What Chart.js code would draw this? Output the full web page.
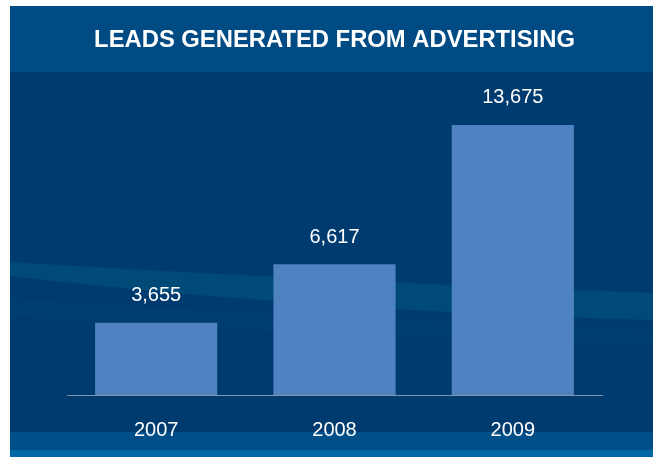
<!DOCTYPE html>
<html lang="en">
<head>
  <meta charset="UTF-8">
  <title>Leads Generated From Advertising</title>
  <script src="https://cdn.jsdelivr.net/npm/chart.js"></script>
  <style>
    html, body { margin: 0; padding: 0; background: #fff; }
    #wrap { width: 653px; height: 457px; }
  </style>
</head>
<body>
<div id="wrap"><canvas id="chart" width="653" height="457"></canvas></div>
<script>
const years = ['2007', '2008', '2009'];
const leads = [3655, 6617, 13675];
const chartTitle = 'LEADS GENERATED FROM ADVERTISING';

// panel background, title band and the light swoosh
const backdrop = {
  id: 'backdrop',
  beforeDraw(chart) {
    const c = chart.ctx;
    c.save();
    c.fillStyle = '#ffffff';
    c.fillRect(0, 0, 653, 457);
    c.fillStyle = '#003b6f';
    c.fillRect(10, 6, 643, 451);
    c.fillStyle = '#004b83';
    c.fillRect(10, 6, 643, 66);
    c.fillStyle = '#004f89';
    c.fillRect(10, 432, 643, 18);
    c.fillStyle = '#0068a4';
    c.fillRect(10, 450, 643, 7);

    // swoosh
    c.beginPath();
    c.moveTo(10, 262);
    c.quadraticCurveTo(300, 280, 653, 293);
    c.lineTo(653, 320);
    c.quadraticCurveTo(300, 310, 10, 276);
    c.closePath();
    c.fillStyle = 'rgba(0, 90, 130, 0.5)';
    c.fill();

    c.beginPath();
    c.moveTo(10, 298);
    c.quadraticCurveTo(300, 318, 653, 330);
    c.lineTo(653, 344);
    c.quadraticCurveTo(300, 336, 10, 316);
    c.closePath();
    c.fillStyle = 'rgba(0, 80, 125, 0.18)';
    c.fill();
    c.restore();
  }
};

// value labels over the bars
const valueLabels = {
  id: 'valueLabels',
  afterDatasetsDraw(chart) {
    const c = chart.ctx;
    const meta = chart.getDatasetMeta(0);
    c.save();
    c.fillStyle = '#ffffff';
    c.font = '20px "Liberation Sans", Arial, sans-serif';
    c.textAlign = 'center';
    c.textBaseline = 'middle';
    meta.data.forEach((bar, i) => {
      c.fillText(leads[i].toLocaleString('en-US'), bar.x, bar.y - 27);
    });
    c.restore();
  }
};

new Chart(document.getElementById('chart'), {
  type: 'bar',
  data: {
    labels: years,
    datasets: [{
      data: leads,
      backgroundColor: '#4e82c1',
      borderWidth: 0,
      categoryPercentage: 1,
      barPercentage: 0.685
    }]
  },
  options: {
    responsive: false,
    animation: false,
    layout: { padding: { left: 67, right: 51, top: 0, bottom: 0 } },
    plugins: {
      legend: { display: false },
      tooltip: { enabled: false },
      title: {
        display: true,
        text: chartTitle,
        color: '#ffffff',
        font: { family: '"Liberation Sans", Arial, sans-serif', size: 23.8, weight: 'bold' },
        padding: { top: 25.7, bottom: 24.7 }
      }
    },
    scales: {
      x: {
        grid: { display: false },
        border: { display: true, color: '#8393a8', width: 1 },
        afterFit(scale) { scale.height = 62; },
        ticks: {
          color: '#ffffff',
          padding: 15,
          font: { family: '"Liberation Sans", Arial, sans-serif', size: 20 }
        }
      },
      y: {
        display: false,
        min: 0,
        max: 16000
      }
    }
  },
  plugins: [backdrop, valueLabels]
});
</script>
</body>
</html>
